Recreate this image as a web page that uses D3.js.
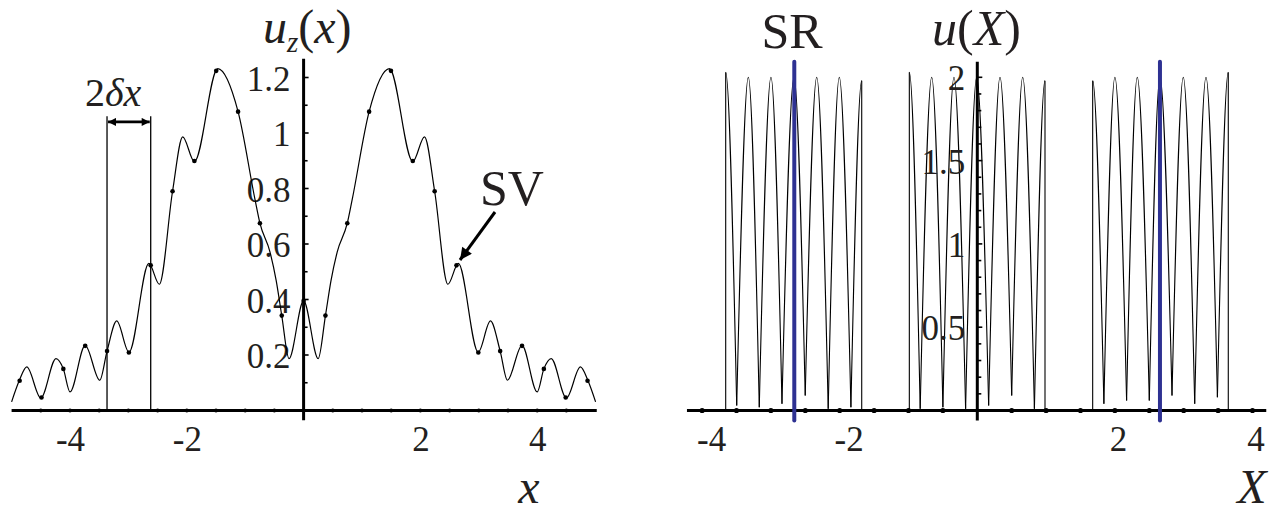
<!DOCTYPE html>
<html>
<head>
<meta charset="utf-8">
<script src="https://cdn.jsdelivr.net/npm/d3@7"></script>
<style>
  html, body { margin: 0; padding: 0; background: #fff; }
  svg { display: block; }
</style>
</head>
<body>
<script>
// ---------------- DATA ----------------
// Left panel: u_z(x), sampled points at k*dx
const deltaX = 0.374;
const sampleK = [-13,-12,-11,-10,-9,-8,-7,-6,-5,-4,-3,-2,-1,0,1,2,3,4,5,6,7,8,9,10,11,12,13];
const sampleU = [0.107,0.047,0.150,0.233,0.214,0.209,0.523,0.790,0.899,1.224,1.077,0.675,0.342,0.395,
                 0.342,0.675,1.077,1.224,0.899,0.790,0.523,0.209,0.214,0.233,0.150,0.047,0.107];
// Left panel: continuous curve (x, u)
const curveX = [-5.0,-4.87,-4.74,-4.50,-4.24,-4.114,-4.00,-3.74,-3.49,-3.366,-3.20,-2.99,-2.65,-2.47,-2.244,-2.07,-1.87,-1.47,-1.122,-0.83,-0.748,-0.575,-0.47,-0.374,-0.25,0,
                0.25,0.374,0.47,0.575,0.748,0.83,1.122,1.47,1.87,2.07,2.244,2.47,2.65,2.99,3.20,3.366,3.49,3.74,4.00,4.114,4.24,4.50,4.74,4.87,5.0];
const curveU = [0.031,0.107,0.157,0.045,0.187,0.150,0.067,0.235,0.109,0.214,0.323,0.210,0.530,0.455,0.790,0.986,0.897,1.232,1.077,0.758,0.675,0.571,0.469,0.342,0.187,0.395,
                0.187,0.342,0.469,0.571,0.675,0.758,1.077,1.232,0.897,0.986,0.790,0.455,0.530,0.210,0.323,0.214,0.109,0.235,0.067,0.150,0.187,0.045,0.157,0.107,0.031];
const xTicksL = [-4,-2,2,4];
const xDotsL = [-4.5,-4,-3.5,-3,-2.5,-2,-1.5,-1,-0.5,0.5,1,1.5,2,2.5,3,3.5,4,4.5];
const yTicksL = [0.2,0.4,0.6,0.8,1,1.2];
const yMinorL = [0.1,0.2,0.3,0.4,0.5,0.6,0.7,0.8,0.9,1.0,1.1,1.2];

// Right panel: u(X), three groups of arches (peaks and troughs)
const group1Peaks = [[-3.657,2.03],[-3.328,2.0],[-2.999,2.0],[-2.664,2.0],[-2.334,2.0],[-2.006,2.0],[-1.680,1.98]];
const group1Troughs = [[-3.497,0.03],[-3.169,0.02],[-2.839,0.04],[-2.501,0.09],[-2.167,0.01],[-1.837,0.02]];
const group2Peaks = [[-0.988,2.03],[-0.663,2.0],[-0.339,2.0],[-0.009,2.0],[0.330,2.0],[0.660,2.0],[0.984,1.98]];
const group2Troughs = [[-0.830,0.01],[-0.500,0.02],[-0.170,0.01],[0.165,0.03],[0.500,0.09],[0.830,0.01]];
const group3Peaks = [[1.677,1.98],[2.000,2.0],[2.325,2.0],[2.655,2.0],[2.994,2.0],[3.324,2.0],[3.648,2.03]];
const group3Troughs = [[1.840,0.04],[2.170,0.06],[2.500,0.06],[2.830,0.09],[3.160,0.04],[3.490,0.08]];
const srLinesX = [-2.66, 2.655];
const xTicksR = [-4,-2,2,4];
const xDotsR = [-4,-3.5,-3,-2.5,-2,-1.5,-1,-0.5,0.5,1,1.5,2,2.5,3,3.5,4];
const yTicksR = [0.5,1,1.5,2];
const yMinorR = [0.1,0.2,0.3,0.4,0.5,0.6,0.7,0.8,0.9,1.0,1.1,1.2,1.3,1.4,1.5,1.6,1.7,1.8,1.9,2.0];

// ---------------- DRAW ----------------
const W = 1283, H = 514;
const ink = "#000";
const txt = "#231f20";
const blue = "#2e3192";
const FONT = "'Liberation Serif', 'Times New Roman', Times, serif";
const svg = d3.select("body").append("svg").attr("width", W).attr("height", H)
  .attr("font-family", FONT);

function addText(sel) {
  return sel.append("text").attr("font-family", FONT).attr("fill", txt);
}

const defs = svg.append("defs");
defs.append("marker").attr("id","ahSmall").attr("viewBox","0 0 10 10").attr("refX",10).attr("refY",5)
  .attr("markerUnits","userSpaceOnUse").attr("markerWidth",9).attr("markerHeight",8).attr("orient","auto-start-reverse")
  .append("path").attr("d","M0,0 L10,5 L0,10 Z").attr("fill",ink);
defs.append("marker").attr("id","ahBig").attr("viewBox","0 0 10 10").attr("refX",10).attr("refY",5)
  .attr("markerUnits","userSpaceOnUse").attr("markerWidth",16).attr("markerHeight",12).attr("orient","auto")
  .append("path").attr("d","M0,0 L10,5 L0,10 Z").attr("fill",ink);

// ----- Left panel -----
const xL = d3.scaleLinear().domain([-5, 5]).range([11.6, 595.6]);
const yL = d3.scaleLinear().domain([0, 1.2]).range([410.5, 77.5]);

const gL = svg.append("g");
gL.append("line").attr("x1", xL(-5.0)).attr("x2", xL(5.02)).attr("y1", yL(0)).attr("y2", yL(0))
  .attr("stroke", ink).attr("stroke-width", 3);
gL.append("line").attr("x1", xL(0)).attr("x2", xL(0)).attr("y1", yL(-0.035)).attr("y2", yL(1.268))
  .attr("stroke", ink).attr("stroke-width", 3);
gL.selectAll(".ymin").data(yMinorL).join("line")
  .attr("x1", xL(0)).attr("x2", d => xL(0) + (Math.round(d*10)%2===0 ? 5 : 4))
  .attr("y1", d => yL(d)).attr("y2", d => yL(d)).attr("stroke", ink).attr("stroke-width", 1.6);
gL.selectAll(".xdot").data(xDotsL).join("circle")
  .attr("cx", d => xL(d)).attr("cy", yL(0)).attr("r", 2).attr("fill", ink);
gL.append("g").attr("transform", `translate(0,${yL(0)})`)
  .call(d3.axisBottom(xL).tickValues(xTicksL).tickFormat(d => String(d)).tickSize(0).tickPadding(16))
  .call(g => g.select(".domain").remove())
  .call(g => g.selectAll("text").attr("font-size", 35).attr("font-family", FONT).attr("fill", txt));
gL.append("g").attr("transform", `translate(${xL(0)},0)`)
  .call(d3.axisLeft(yL).tickValues(yTicksL).tickFormat(d => String(d)).tickSize(0).tickPadding(13))
  .call(g => g.select(".domain").remove())
  .call(g => g.selectAll("text").attr("font-size", 35).attr("font-family", FONT).attr("fill", txt).attr("dy", "0.36em"));

const lineL = d3.line().x(d => xL(d[0])).y(d => yL(d[1])).curve(d3.curveMonotoneX);
gL.append("path").attr("d", lineL(curveX.map((x, i) => [x, curveU[i]])))
  .attr("fill", "none").attr("stroke", ink).attr("stroke-width", 1.2);
gL.selectAll(".sdot").data(sampleK).join("circle")
  .attr("cx", k => xL(k * deltaX)).attr("cy", (k, i) => yL(sampleU[i])).attr("r", 2.3).attr("fill", ink);

// 2 delta x annotation
const bracketK = [-9, -7];
gL.selectAll(".vline").data(bracketK).join("line")
  .attr("x1", k => xL(k*deltaX)).attr("x2", k => xL(k*deltaX))
  .attr("y1", yL(0)).attr("y2", yL(1.06)).attr("stroke", ink).attr("stroke-width", 1.3);
gL.append("line")
  .attr("x1", xL(bracketK[0]*deltaX) + 1).attr("x2", xL(bracketK[1]*deltaX) - 1)
  .attr("y1", yL(1.04)).attr("y2", yL(1.04))
  .attr("stroke", ink).attr("stroke-width", 2.6)
  .attr("marker-start", "url(#ahSmall)").attr("marker-end", "url(#ahSmall)");
const t2dx = addText(gL).attr("x", 85).attr("y", 106).attr("font-size", 40);
t2dx.append("tspan").text("2");
t2dx.append("tspan").attr("font-style", "italic").text("δx");

const tuz = addText(gL).attr("x", 263).attr("y", 43).attr("font-size", 48);
tuz.append("tspan").attr("font-style", "italic").text("u");
tuz.append("tspan").attr("font-style", "italic").attr("font-size", 29).attr("dy", 9).text("z");
tuz.append("tspan").attr("dy", -9).text("(");
tuz.append("tspan").attr("font-style", "italic").text("x");
tuz.append("tspan").text(")");
addText(gL).attr("x", 529).attr("y", 503).attr("font-size", 48).attr("font-style", "italic")
  .attr("text-anchor", "middle").text("x");

addText(gL).attr("x", 480).attr("y", 205).attr("font-size", 50).text("SV");
gL.append("line").attr("x1", 495).attr("y1", 212).attr("x2", 460).attr("y2", 260)
  .attr("stroke", ink).attr("stroke-width", 3).attr("marker-end", "url(#ahBig)");

// ----- Right panel -----
const xR = d3.scaleLinear().domain([-4, 4]).range([702.1, 1252.5]);
const yR = d3.scaleLinear().domain([0, 2]).range([410.5, 77.3]);
const gR = svg.append("g");

const lineR = d3.line().x(d => xR(d[0])).y(d => yR(d[1])).curve(d3.curveMonotoneX);
const groups = [[group1Peaks, group1Troughs], [group2Peaks, group2Troughs], [group3Peaks, group3Troughs]];
groups.forEach(([peaks, troughs], gi) => {
  const id = "clipG" + gi;
  const x0 = peaks[0][0], x1 = peaks[peaks.length - 1][0];
  defs.append("clipPath").attr("id", id).append("rect")
    .attr("x", xR(x0)).attr("y", 0).attr("width", xR(x1) - xR(x0)).attr("height", H);
  const gg = gR.append("g").attr("clip-path", `url(#${id})`);
  peaks.forEach((p, i) => {
    const left = i === 0 ? [p[0] - (troughs[0][0] - p[0]), 0] : troughs[i - 1];
    const right = i === peaks.length - 1 ? [p[0] + (p[0] - troughs[troughs.length - 1][0]), 0] : troughs[i];
    gg.append("path").attr("d", lineR([left, p, right]))
      .attr("fill", "none").attr("stroke", ink).attr("stroke-width", 1.1);
  });
  [peaks[0], peaks[peaks.length - 1]].forEach(p => {
    gR.append("path").attr("d", d3.line().x(d => xR(d[0])).y(d => yR(d[1]))([[p[0], 0], p]))
      .attr("fill", "none").attr("stroke", ink).attr("stroke-width", 1.1);
  });
});

gR.append("line").attr("x1", xR(-4.22)).attr("x2", xR(4.2)).attr("y1", yR(0)).attr("y2", yR(0))
  .attr("stroke", ink).attr("stroke-width", 3);
gR.append("line").attr("x1", xR(0)).attr("x2", xR(0)).attr("y1", yR(-0.06)).attr("y2", yR(2.094))
  .attr("stroke", ink).attr("stroke-width", 3);
gR.selectAll(".ymin").data(yMinorR).join("line")
  .attr("x1", xR(0)).attr("x2", d => xR(0) + (Math.round(d*10)%5===0 ? 5 : 4))
  .attr("y1", d => yR(d)).attr("y2", d => yR(d)).attr("stroke", ink).attr("stroke-width", 1.6);
gR.selectAll(".xdot").data(xDotsR).join("circle")
  .attr("cx", d => xR(d)).attr("cy", yR(0)).attr("r", 2.6).attr("fill", ink);
gR.append("g").attr("transform", `translate(0,${yR(0)})`)
  .call(d3.axisBottom(xR).tickValues(xTicksR).tickFormat(d => String(d)).tickSize(0).tickPadding(16))
  .call(g => g.select(".domain").remove())
  .call(g => g.selectAll("text").attr("font-size", 35).attr("font-family", FONT).attr("fill", txt).attr("dx", d => d < 0 ? 9 : 3));
gR.append("g").attr("transform", `translate(${xR(0)},0)`)
  .call(d3.axisLeft(yR).tickValues(yTicksR).tickFormat(d => String(d)).tickSize(0).tickPadding(12))
  .call(g => g.select(".domain").remove())
  .call(g => g.selectAll("text").attr("font-size", 35).attr("font-family", FONT).attr("fill", txt).attr("dy", "0.36em"));

gR.selectAll(".sr").data(srLinesX).join("line")
  .attr("x1", d => xR(d)).attr("x2", d => xR(d)).attr("y1", yR(-0.06)).attr("y2", yR(2.094))
  .attr("stroke", blue).attr("stroke-width", 4).attr("stroke-linecap", "round");

addText(gR).attr("x", 792).attr("y", 48).attr("font-size", 50).attr("text-anchor", "middle").text("SR");
const tuX = addText(gR).attr("x", 932).attr("y", 45).attr("font-size", 50);
tuX.append("tspan").attr("font-style", "italic").text("u");
tuX.append("tspan").text("(");
tuX.append("tspan").attr("font-style", "italic").text("X");
tuX.append("tspan").text(")");
addText(gR).attr("x", 1252).attr("y", 503).attr("font-size", 48).attr("font-style", "italic")
  .attr("text-anchor", "middle").text("X");
</script>
</body>
</html>
